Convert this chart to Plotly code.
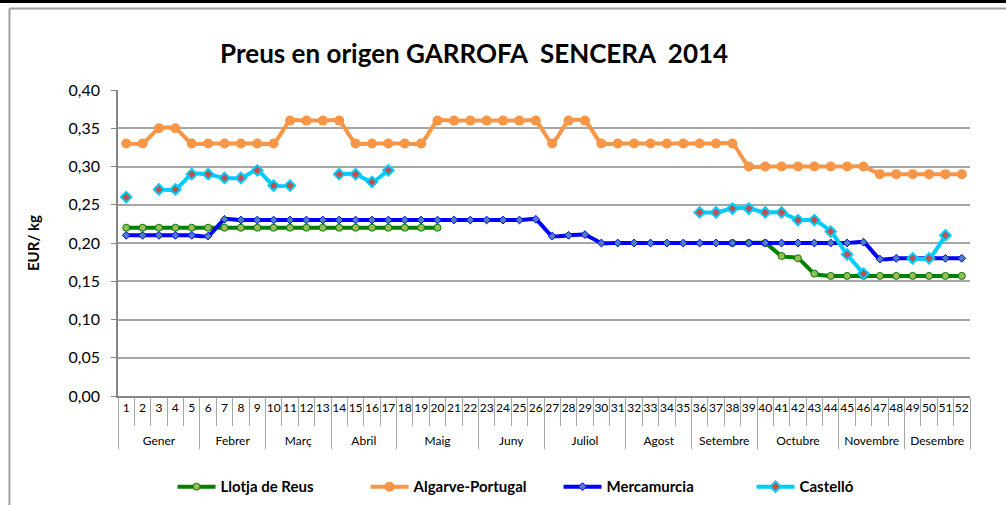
import plotly.graph_objects as go

weeks = [str(i) for i in range(1, 53)]
month_names = ["Gener", "Febrer", "Març", "Abril", "Maig", "Juny", "Juliol",
               "Agost", "Setembre", "Octubre", "Novembre", "Desembre"]
weeks_per_month = [5, 4, 4, 4, 5, 4, 5, 4, 4, 5, 4, 4]
months = ["<br>" + m for m, n in zip(month_names, weeks_per_month) for _ in range(n)]

N = None
llotja_reus = [0.22] * 20 + [N] * 17 + [0.20, 0.20, 0.20, 0.183, 0.18, 0.16, 0.157,
                                        0.157, 0.157, 0.157, 0.157, 0.157, 0.157, 0.157, 0.157]
algarve = ([0.33, 0.33, 0.35, 0.35, 0.33, 0.33, 0.33, 0.33, 0.33, 0.33,
            0.36, 0.36, 0.36, 0.36, 0.33, 0.33, 0.33, 0.33, 0.33,
            0.36, 0.36, 0.36, 0.36, 0.36, 0.36, 0.36, 0.33, 0.36, 0.36,
            0.33, 0.33, 0.33, 0.33, 0.33, 0.33, 0.33, 0.33, 0.33,
            0.30, 0.30, 0.30, 0.30, 0.30, 0.30, 0.30, 0.30,
            0.29, 0.29, 0.29, 0.29, 0.29, 0.29])
mercamurcia = ([0.21, 0.21, 0.21, 0.21, 0.21, 0.209, 0.231] + [0.23] * 18 +
               [0.231, 0.209, 0.21, 0.211] + [0.20] * 16 + [0.201] +
               [0.179, 0.18, 0.18, 0.18, 0.18, 0.18])
castello = ([0.26, N, 0.27, 0.27, 0.29, 0.29, 0.285, 0.285, 0.295, 0.275, 0.275, N, N,
             0.29, 0.29, 0.28, 0.295] + [N] * 18 +
            [0.24, 0.24, 0.245, 0.245, 0.24, 0.24, 0.23, 0.23, 0.215, 0.185, 0.16,
             N, N, 0.18, 0.18, 0.21, N])

x = [months, weeks]
FONT = "Lato"

fig = go.Figure()
fig.add_trace(go.Scatter(
    x=x, y=llotja_reus, name="Llotja de Reus", mode="lines+markers",
    line=dict(color="#008000", width=4, shape="spline", smoothing=0.5),
    marker=dict(symbol="circle", size=7, color="#9BBB59", line=dict(color="#008000", width=1)),
    connectgaps=False))
fig.add_trace(go.Scatter(
    x=x, y=algarve, name="Algarve-Portugal", mode="lines+markers",
    line=dict(color="#F79646", width=4, shape="spline", smoothing=0.5),
    marker=dict(symbol="circle", size=10, color="#F79646"),
    connectgaps=False))
fig.add_trace(go.Scatter(
    x=x, y=mercamurcia, name="Mercamurcia", mode="lines+markers",
    line=dict(color="#0000FF", width=4, shape="spline", smoothing=0.5),
    marker=dict(symbol="diamond", size=6, color="#4F81BD", line=dict(color="#0000FF", width=1)),
    connectgaps=False))
fig.add_trace(go.Scatter(
    x=x, y=castello, name="Castelló", mode="lines+markers",
    line=dict(color="#00CCFF", width=4, shape="spline", smoothing=0.5),
    marker=dict(symbol="diamond", size=8, color="#C0504D", line=dict(color="#00CCFF", width=2)),
    connectgaps=False))

# decorative frame (paper coordinates)
shapes = [
    dict(type="line", xref="paper", yref="paper", x0=-0.14, x1=1.05, y0=1.289, y1=1.289,
         line=dict(color="black", width=3)),
    dict(type="line", xref="paper", yref="paper", x0=-0.1274, x1=1.05, y0=1.266, y1=1.266,
         line=dict(color="#A0A0A0", width=2)),
    dict(type="line", xref="paper", yref="paper", x0=-0.1274, x1=-0.1274, y0=1.266, y1=-0.40,
         line=dict(color="#A0A0A0", width=2)),
]

fig.update_layout(
    width=1006, height=505,
    margin=dict(l=118, r=36, t=90, b=109, autoexpand=False),
    paper_bgcolor="white", plot_bgcolor="white",
    separators=",.",
    font=dict(family=FONT, color="black"),
    title=dict(text="<b>Preus en origen GARROFA  SENCERA  2014</b>",
               x=0.418, xref="paper", xanchor="center", y=0.893, yref="container",
               yanchor="middle", font=dict(size=26, family=FONT, color="black")),
    showlegend=True,
    legend=dict(orientation="h", x=0.064, xanchor="left", y=-0.297, yanchor="middle",
                font=dict(size=15, family=FONT, color="black", weight="bold"),
                traceorder="normal", itemwidth=38, entrywidth=140, entrywidthmode="pixels"),
    shapes=shapes,
)
fig.update_yaxes(
    range=[0, 0.40], dtick=0.05, tickformat=".2f", automargin=False,
    showgrid=True, gridcolor="#A6A6A6", gridwidth=1.5,
    showline=True, linecolor="#868686", linewidth=1.5,
    ticks="outside", ticklen=5, tickcolor="#868686", ticklabelstandoff=8,
    tickfont=dict(size=16, family=FONT, color="black"),
    title=dict(text="<b>EUR/ kg</b>", font=dict(size=15, family=FONT, color="black"), standoff=25),
    zeroline=False,
)
fig.update_xaxes(
    type="multicategory", automargin=False,
    range=[-0.5, 51.5], tickmode="linear", dtick=1, tickangle=0,
    showline=True, linecolor="#868686", linewidth=1.5,
    ticks="outside", tickson="boundaries", ticklen=28, tickcolor="#A6A6A6",
    showdividers=True, dividercolor="#A6A6A6", dividerwidth=1,
    tickfont=dict(size=12, family=FONT, color="black"),
    showgrid=False,
)

fig.write_html("out.html", config={"displayModeBar": False},
               post_script="document.body.style.margin='0';")
